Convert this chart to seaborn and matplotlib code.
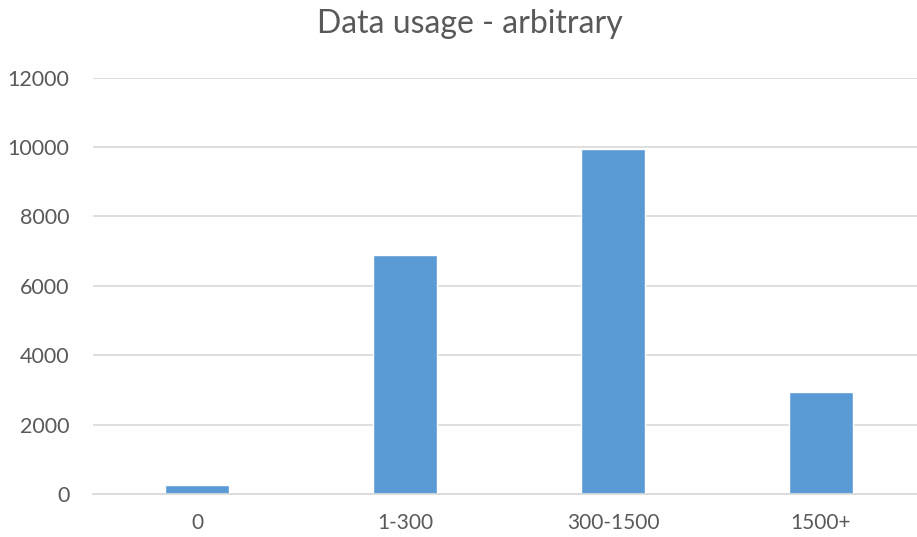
import matplotlib
matplotlib.use('Agg')
import matplotlib.pyplot as plt
import seaborn as sns
import pandas as pd

# Data
categories = ['0', '1-300', '300-1500', '1500+']
usage = [260, 6890, 9940, 2950]

df = pd.DataFrame({'bucket': categories, 'count': usage})

sns.set_theme(style='white')
plt.rcParams['font.family'] = ['Lato', 'DejaVu Sans']

text_grey = '#595959'
grid_grey = '#D9D9D9'

fig = plt.figure(figsize=(9.17, 5.37), dpi=100)
ax = fig.add_axes([93 / 917, 43 / 537, 824 / 917, (494 - 77.7) / 537])

sns.barplot(data=df, x='bucket', y='count', color='#5B9BD5', saturation=1,
            width=0.31, ax=ax)

ax.set_ylim(0, 12000)
ax.set_xlim(-0.5, 3.5 - 8 / 208)
ax.set_yticks(range(0, 12001, 2000))
ax.yaxis.grid(True, color=grid_grey, linewidth=1.2)
ax.set_axisbelow(True)
ax.set_xlabel('')
ax.set_ylabel('')

for side in ['top', 'right', 'left']:
    ax.spines[side].set_visible(False)
ax.spines['bottom'].set_color(grid_grey)
ax.spines['bottom'].set_linewidth(1.2)

ax.tick_params(axis='y', length=0, pad=17, labelsize=15.5, labelcolor=text_grey)
ax.tick_params(axis='x', length=0, pad=14, labelsize=15, labelcolor=text_grey)

fig.text(470 / 917, 1 - 24 / 537, 'Data usage - arbitrary', ha='center',
         va='center', fontsize=23, color=text_grey)

plt.savefig('out.png', dpi=100)
plt.close()
